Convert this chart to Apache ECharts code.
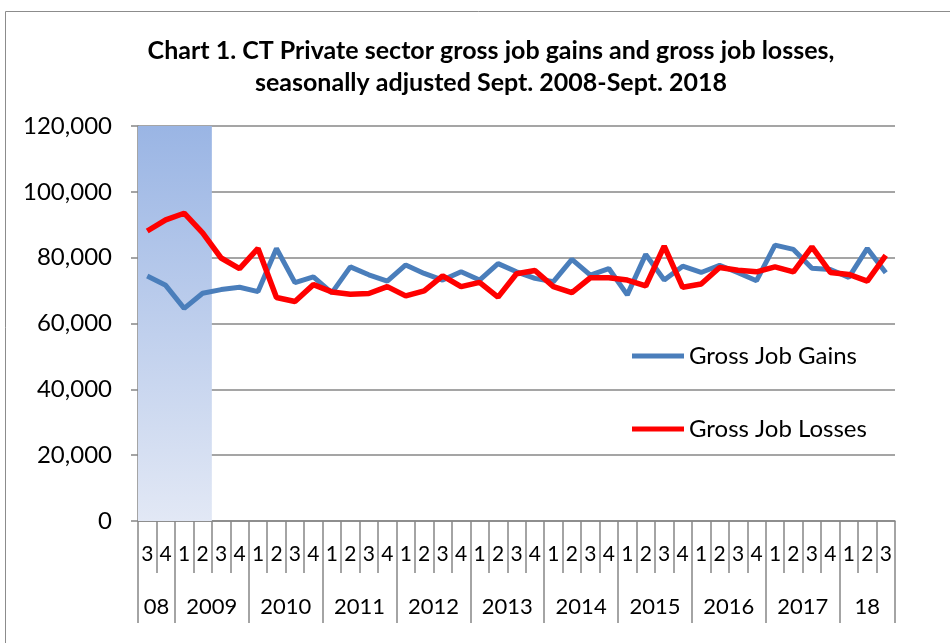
<!DOCTYPE html>
<html>
<head>
<meta charset="utf-8">
<script src="https://cdn.jsdelivr.net/npm/echarts@6/dist/echarts.min.js"></script>
<style>
  html, body { margin: 0; padding: 0; background: #fff; }
  #chart { width: 950px; height: 643px; }
</style>
</head>
<body>
<div id="chart"></div>
<script>
// quarters from 2008 Q3 to 2018 Q3
const quarters = ['3','4',
  '1','2','3','4', '1','2','3','4', '1','2','3','4', '1','2','3','4', '1','2','3','4',
  '1','2','3','4', '1','2','3','4', '1','2','3','4', '1','2','3','4', '1','2','3'];
const years = ['08','2009','2010','2011','2012','2013','2014','2015','2016','2017','18'];

const jobGains = [74400, 71600, 64600, 69200, 70300, 71000, 69700, 82800, 72400, 74200,
  69300, 77200, 74800, 72900, 77800, 75200, 73200, 75700, 73200, 78200,
  75700, 73700, 72700, 79500, 74700, 76700, 68700, 81000, 73200, 77400,
  75500, 77700, 75400, 73000, 83800, 82500, 76800, 76400, 74000, 82800, 75400];
const jobLosses = [88100, 91500, 93500, 87500, 79900, 76700, 82800, 67900, 66700, 71800,
  69600, 68900, 69100, 71200, 68400, 69900, 74500, 71200, 72500, 68000,
  75100, 76100, 71200, 69400, 73900, 73900, 73200, 71400, 83500, 71000,
  72000, 77000, 76200, 75700, 77200, 75700, 83300, 75500, 74900, 72900, 80700];
// recession shading: first quarter index, last quarter index, top value (2008 Q3 - 2009 Q2)
const recession = [[0, 3, 120000]];

const yTicks = { min: 0, max: 120000, interval: 20000 };

// year row: a second axis with slots on every half category boundary
const bounds = [0];
quarters.forEach((q, i) => { if (q === '1') bounds.push(i); });
bounds.push(quarters.length);
const slots = [];
for (let k = 0; k <= quarters.length * 2; k++) slots.push('');
const tickSlots = {};
bounds.forEach(b => { tickSlots[b * 2] = true; });
years.forEach((y, j) => { slots[bounds[j] + bounds[j + 1]] = y; });

const chart = echarts.init(document.getElementById('chart'));
const font = 'Lato, "Open Sans", sans-serif';
const grey = '#878787';

function renderShade(params, api) {
  const bandW = api.size([1, 0])[0];
  const p0 = api.coord([api.value(0), api.value(2)]);
  const p1 = api.coord([api.value(1), 0]);
  return {
    type: 'rect',
    shape: { x: p0[0] - bandW / 2, y: p0[1], width: p1[0] - p0[0] + bandW, height: p1[1] - p0[1] },
    style: {
      fill: new echarts.graphic.LinearGradient(0, 0, 0, 1, [
        { offset: 0, color: '#9ab5e4' },
        { offset: 1, color: '#e2e8f5' }
      ])
    }
  };
}

chart.setOption({
  animation: false,
  title: {
    text: 'Chart 1. CT Private sector gross job gains and gross job losses,\nseasonally adjusted Sept. 2008-Sept. 2018',
    left: 486,
    top: 30,
    textAlign: 'center',
    textStyle: { fontFamily: font, fontSize: 25, fontWeight: 'bold', color: '#000', lineHeight: 32 }
  },
  graphic: [{
    type: 'rect',
    shape: { x: 5.5, y: 11.5, width: 960, height: 660 },
    style: { fill: 'none', stroke: '#8c8c8c', lineWidth: 1 },
    silent: true
  }],
  legend: {
    orient: 'vertical',
    left: 632,
    top: 344,
    padding: 0,
    itemGap: 49,
    itemWidth: 52,
    itemHeight: 5,
    icon: 'rect',
    data: ['Gross Job Gains', 'Gross Job Losses'],
    textStyle: { fontFamily: font, fontSize: 24, color: '#000' }
  },
  grid: { left: 138, right: 55, top: 126, bottom: 122 },
  xAxis: [{
    type: 'category',
    data: quarters,
    boundaryGap: true,
    position: 'bottom',
    axisLine: { lineStyle: { color: grey, width: 1.5 } },
    axisTick: { show: true, interval: 0, length: 52, lineStyle: { color: grey, width: 1.5 } },
    axisLabel: { interval: 0, margin: 23, fontFamily: font, fontSize: 21, color: '#000' },
    splitLine: { show: false }
  }, {
    type: 'category',
    data: slots,
    boundaryGap: false,
    position: 'bottom',
    axisLine: { show: false },
    axisTick: {
      show: true,
      length: 102,
      interval: (i) => !!tickSlots[i],
      lineStyle: { color: grey, width: 1.5 }
    },
    axisLabel: {
      interval: (i, v) => v !== '',
      margin: 75,
      fontFamily: font, fontSize: 22, color: '#000'
    },
    splitLine: { show: false }
  }],
  yAxis: {
    type: 'value',
    min: yTicks.min,
    max: yTicks.max,
    interval: yTicks.interval,
    axisLine: { show: true, lineStyle: { color: grey, width: 1.5 } },
    axisTick: { show: true, length: 7, lineStyle: { color: grey, width: 1.5 } },
    axisLabel: {
      margin: 26,
      fontFamily: font, fontSize: 24, color: '#000',
      formatter: (v) => v.toLocaleString('en-US')
    },
    splitLine: { lineStyle: { color: grey, width: 1.5 } }
  },
  series: [{
    name: 'shade',
    type: 'custom',
    data: recession,
    renderItem: renderShade,
    encode: { x: 0, y: 2 },
    silent: true,
    z: 1
  }, {
    name: 'Gross Job Gains',
    type: 'line',
    data: jobGains,
    showSymbol: false,
    color: '#4a7ebb',
    lineStyle: { color: '#4a7ebb', width: 5 },
    z: 3
  }, {
    name: 'Gross Job Losses',
    type: 'line',
    data: jobLosses,
    showSymbol: false,
    color: '#ff0000',
    lineStyle: { color: '#ff0000', width: 5.5 },
    z: 4
  }]
});
</script>
</body>
</html>
